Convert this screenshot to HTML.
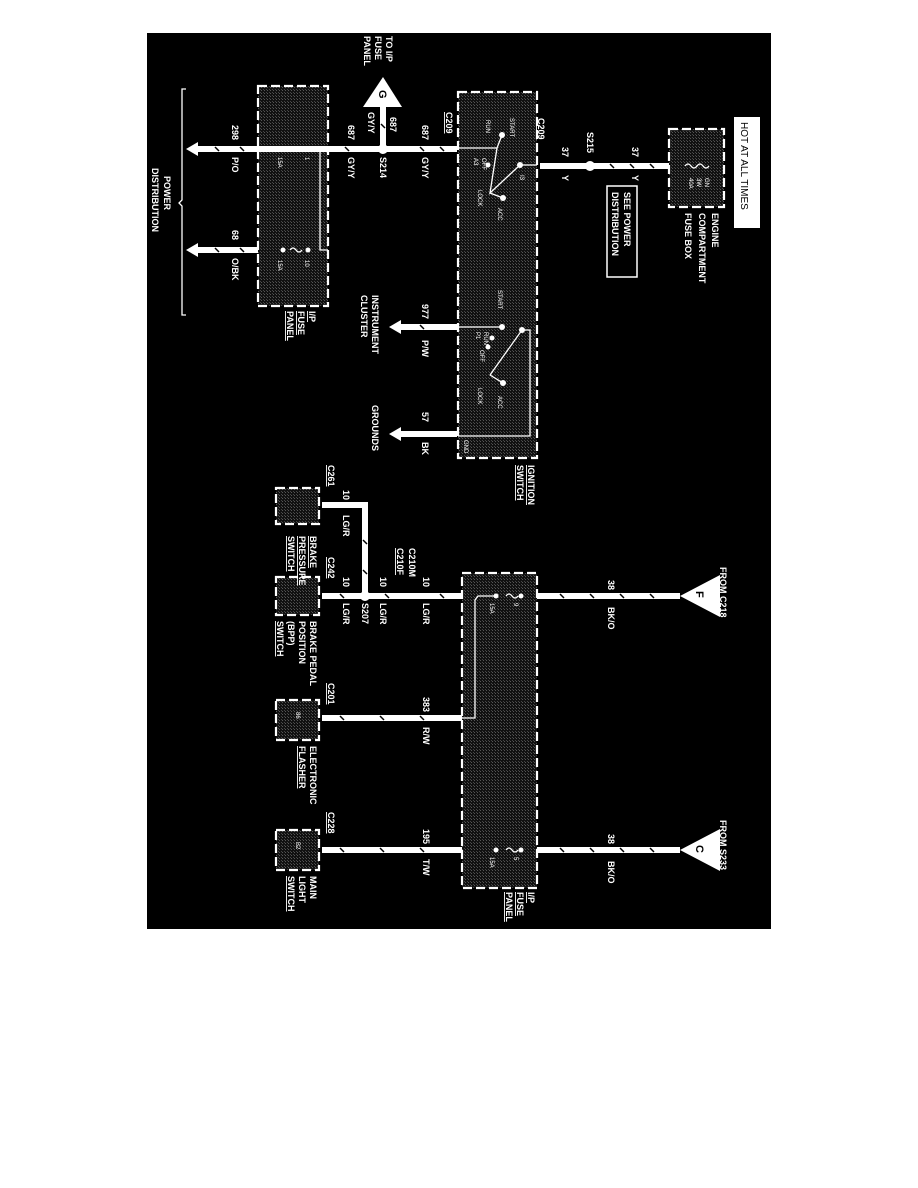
<!DOCTYPE html>
<html><head><meta charset="utf-8"><style>
html,body{margin:0;padding:0;background:#fff;}
svg{display:block;}
text{font-family:"Liberation Sans",Arial,sans-serif;font-weight:bold;fill:#fff;font-size:9px;}
.s{font-size:6px;font-weight:normal;}
</style></head><body>
<svg width="918" height="1188" viewBox="0 0 918 1188" xmlns="http://www.w3.org/2000/svg">
<defs>
<pattern id="gr" width="3" height="3" patternUnits="userSpaceOnUse"><rect width="3" height="3" fill="#111"/><rect width="1" height="1" fill="#555"/><rect x="2" y="2" width="1" height="1" fill="#444"/></pattern>
</defs>
<rect x="147" y="33" width="624" height="896" fill="#000"/>
<g fill="url(#gr)" stroke="#fff" stroke-width="2.2" stroke-dasharray="9,4">
<rect x="669" y="129" width="55" height="78"/>
<rect x="458" y="92" width="79" height="366"/>
<rect x="258" y="86" width="70" height="220"/>
<rect x="462" y="573" width="75" height="315"/>
<rect x="276" y="488" width="43" height="36"/>
<rect x="276" y="577" width="43" height="38"/>
<rect x="276" y="700" width="43" height="40"/>
<rect x="276" y="830" width="43" height="40"/>
</g>
<rect x="734" y="117" width="26" height="111" fill="#fff"/>
<text transform="translate(741,122) rotate(90)" style="fill:#000;font-weight:normal;font-size:10px">HOT AT ALL TIMES</text>
<rect x="607" y="186" width="30" height="91" fill="none" stroke="#fff" stroke-width="1.5"/>
<text transform="translate(624,192) rotate(90)">SEE POWER</text>
<text transform="translate(612,192) rotate(90)">DISTRIBUTION</text>
<g stroke="#fff" stroke-width="6" fill="none">
<line x1="540" y1="166" x2="669" y2="166"/>
<line x1="192" y1="149" x2="457" y2="149"/>
<line x1="383" y1="106" x2="383" y2="149"/>
<line x1="192" y1="250" x2="258" y2="250"/>
<line x1="397" y1="327" x2="457" y2="327"/>
<line x1="397" y1="434" x2="457" y2="434"/>
<line x1="537" y1="596" x2="680" y2="596"/>
<line x1="537" y1="850" x2="680" y2="850"/>
<line x1="322" y1="596" x2="462" y2="596"/>
<polyline points="365,596 365,505 322,505"/>
<line x1="322" y1="718" x2="462" y2="718"/>
<line x1="322" y1="850" x2="462" y2="850"/>
</g>
<g stroke="#000" stroke-width="1.5">
<path d="M610 164l4 4M630 164l4 4M650 164l4 4M215 147l4 4M240 147l4 4M345 147l4 4M420 147l4 4M440 147l4 4M215 248l4 4M240 248l4 4M420 325l4 4M560 594l4 4M590 594l4 4M620 594l4 4M650 594l4 4M560 848l4 4M590 848l4 4M620 848l4 4M650 848l4 4M340 594l4 4M385 594l4 4M440 594l4 4M340 716l4 4M380 716l4 4M420 716l4 4M340 848l4 4M380 848l4 4M420 848l4 4M363 540l4 4M363 570l4 4M381 124l4 4"/>
</g>
<g fill="#fff">
<polygon points="186,149 198,142 198,156"/>
<polygon points="186,250 198,243 198,257"/>
<polygon points="389,327 401,320 401,334"/>
<polygon points="389,434 401,427 401,441"/>
<polygon points="363,107 402,107 383,77"/>
<polygon points="680,596 720,575 720,617"/>
<polygon points="680,850 720,829 720,871"/>
<circle cx="590" cy="166" r="5"/>
<circle cx="383" cy="149" r="5"/>
<circle cx="365" cy="596" r="5"/>
</g>
<text transform="translate(379,90) rotate(90)" style="fill:#000;font-size:11px">G</text>
<text transform="translate(696,591) rotate(90)" style="fill:#000;font-size:11px">F</text>
<text transform="translate(696,845) rotate(90)" style="fill:#000;font-size:11px">C</text>
<g stroke="#fff" stroke-width="1.3" fill="none">
<polyline points="328,149 320,149 320,250 328,250"/>
<path d="M283 149 h2 M308 149 h2"/>
<path d="M290 149 q3 -4 6 0 q3 4 6 0"/>
<path d="M290 250 q3 -4 6 0 q3 4 6 0"/>
<path d="M685 166 q3 -4 6 0 q3 4 6 0 q3 -4 6 0 q3 4 6 0"/>
<path d="M506 596 q3 -4 6 0 q3 4 6 0"/>
<path d="M506 850 q3 -4 6 0 q3 4 6 0"/>
<polyline points="496,596 478,596 475,600 475,718 462,718"/>
<polyline points="458,148 497,148 502,135"/>
<polyline points="497,148 490,193 520,165 537,165"/>
<line x1="490" y1="193" x2="503" y2="198"/>
<polyline points="458,327 502,327"/>
<polyline points="490,375 522,330 530,330 530,436 458,436"/>
<line x1="490" y1="375" x2="503" y2="383"/>
</g>
<g fill="#fff">
<circle cx="502" cy="135" r="3"/><circle cx="488" cy="165" r="2.5"/><circle cx="503" cy="198" r="3"/><circle cx="520" cy="165" r="3"/>
<circle cx="502" cy="327" r="3"/><circle cx="492" cy="338" r="2.5"/><circle cx="488" cy="347" r="2.5"/><circle cx="503" cy="383" r="3"/><circle cx="522" cy="330" r="3"/>
<circle cx="283" cy="149" r="2.5"/><circle cx="308" cy="149" r="2.5"/><circle cx="283" cy="250" r="2.5"/><circle cx="308" cy="250" r="2.5"/>
<circle cx="496" cy="596" r="2.5"/><circle cx="521" cy="596" r="2.5"/><circle cx="496" cy="850" r="2.5"/><circle cx="521" cy="850" r="2.5"/>
</g>
<text transform="translate(712,213) rotate(90)">ENGINE</text>
<text transform="translate(699,213) rotate(90)">COMPARTMENT</text>
<text transform="translate(685,213) rotate(90)">FUSE BOX</text>
<text class="s" transform="translate(705,178) rotate(90)">GN</text>
<text class="s" transform="translate(697,178) rotate(90)">3W</text>
<text class="s" transform="translate(689,178) rotate(90)">40A</text>
<text transform="translate(632,147) rotate(90)">37</text>
<text transform="translate(632,175) rotate(90)">Y</text>
<text transform="translate(587,132) rotate(90)">S215</text>
<text transform="translate(562,147) rotate(90)">37</text>
<text transform="translate(562,175) rotate(90)">Y</text>
<text transform="translate(538,118) rotate(90)" text-decoration="underline">C209</text>
<text transform="translate(446,112) rotate(90)" text-decoration="underline">C209</text>
<text transform="translate(422,125) rotate(90)">687</text>
<text transform="translate(422,157) rotate(90)">GY/Y</text>
<text transform="translate(390,117) rotate(90)">687</text>
<text transform="translate(368,112) rotate(90)">GY/Y</text>
<text transform="translate(380,157) rotate(90)">S214</text>
<text transform="translate(348,125) rotate(90)">687</text>
<text transform="translate(348,157) rotate(90)">GY/Y</text>
<text transform="translate(232,125) rotate(90)">298</text>
<text transform="translate(232,157) rotate(90)">P/O</text>
<text transform="translate(232,230) rotate(90)">68</text>
<text transform="translate(232,258) rotate(90)">O/BK</text>
<text class="s" transform="translate(305,157) rotate(90)">1</text>
<text class="s" transform="translate(278,157) rotate(90)">15A</text>
<text class="s" transform="translate(305,260) rotate(90)">10</text>
<text class="s" transform="translate(278,260) rotate(90)">15A</text>
<text transform="translate(309,311) rotate(90)" text-decoration="underline">I/P</text>
<text transform="translate(298,311) rotate(90)" text-decoration="underline">FUSE</text>
<text transform="translate(287,311) rotate(90)" text-decoration="underline">PANEL</text>
<text transform="translate(164,176) rotate(90)">POWER</text>
<text transform="translate(152,168) rotate(90)">DISTRIBUTION</text>
<path d="M186 89 h-4 v111 l-3 3 l3 3 v109 h4" stroke="#fff" stroke-width="1.3" fill="none"/>
<text transform="translate(386,36) rotate(90)">TO I/P</text>
<text transform="translate(375,36) rotate(90)">FUSE</text>
<text transform="translate(364,36) rotate(90)">PANEL</text>
<text transform="translate(422,304) rotate(90)">977</text>
<text transform="translate(422,340) rotate(90)">P/W</text>
<text transform="translate(372,295) rotate(90)">INSTRUMENT</text>
<text transform="translate(361,295) rotate(90)">CLUSTER</text>
<text transform="translate(422,412) rotate(90)">57</text>
<text transform="translate(422,442) rotate(90)">BK</text>
<text transform="translate(372,405) rotate(90)">GROUNDS</text>
<text transform="translate(528,465) rotate(90)" text-decoration="underline">IGNITION</text>
<text transform="translate(517,465) rotate(90)" text-decoration="underline">SWITCH</text>
<text class="s" transform="translate(510,118) rotate(90)">START</text>
<text class="s" transform="translate(486,120) rotate(90)">RUN</text>
<text class="s" transform="translate(482,158) rotate(90)">OFF</text>
<text class="s" transform="translate(474,158) rotate(90)">A3</text>
<text class="s" transform="translate(478,190) rotate(90)">LOCK</text>
<text class="s" transform="translate(498,208) rotate(90)">ACC</text>
<text class="s" transform="translate(520,175) rotate(90)">I3</text>
<text class="s" transform="translate(498,290) rotate(90)">START</text>
<text class="s" transform="translate(484,332) rotate(90)">RUN</text>
<text class="s" transform="translate(476,332) rotate(90)">P1</text>
<text class="s" transform="translate(480,350) rotate(90)">OFF</text>
<text class="s" transform="translate(478,388) rotate(90)">LOCK</text>
<text class="s" transform="translate(498,396) rotate(90)">ACC</text>
<text class="s" transform="translate(464,440) rotate(90)">GND</text>
<text transform="translate(720,567) rotate(90)">FROM C218</text>
<text transform="translate(720,820) rotate(90)">FROM S233</text>
<text transform="translate(608,580) rotate(90)">38</text>
<text transform="translate(608,607) rotate(90)">BK/O</text>
<text transform="translate(608,834) rotate(90)">38</text>
<text transform="translate(608,861) rotate(90)">BK/O</text>
<text class="s" transform="translate(514,603) rotate(90)">9</text>
<text class="s" transform="translate(490,603) rotate(90)">15A</text>
<text class="s" transform="translate(514,857) rotate(90)">5</text>
<text class="s" transform="translate(490,857) rotate(90)">15A</text>
<text transform="translate(528,892) rotate(90)" text-decoration="underline">I/P</text>
<text transform="translate(517,892) rotate(90)" text-decoration="underline">FUSE</text>
<text transform="translate(506,892) rotate(90)" text-decoration="underline">PANEL</text>
<text transform="translate(423,577) rotate(90)">10</text>
<text transform="translate(423,603) rotate(90)">LG/R</text>
<text transform="translate(409,548) rotate(90)">C210M</text>
<text transform="translate(397,548) rotate(90)" text-decoration="underline">C210F</text>
<text transform="translate(380,577) rotate(90)">10</text>
<text transform="translate(380,603) rotate(90)">LG/R</text>
<text transform="translate(362,603) rotate(90)">S207</text>
<text transform="translate(343,577) rotate(90)">10</text>
<text transform="translate(343,603) rotate(90)">LG/R</text>
<text transform="translate(328,557) rotate(90)" text-decoration="underline">C242</text>
<text transform="translate(343,490) rotate(90)">10</text>
<text transform="translate(343,515) rotate(90)">LG/R</text>
<text transform="translate(328,465) rotate(90)" text-decoration="underline">C261</text>
<text transform="translate(310,536) rotate(90)" text-decoration="underline">BRAKE</text>
<text transform="translate(299,536) rotate(90)" text-decoration="underline">PRESSURE</text>
<text transform="translate(288,536) rotate(90)" text-decoration="underline">SWITCH</text>
<text transform="translate(310,621) rotate(90)">BRAKE PEDAL</text>
<text transform="translate(299,621) rotate(90)">POSITION</text>
<text transform="translate(288,621) rotate(90)">(BPP)</text>
<text transform="translate(277,621) rotate(90)" text-decoration="underline">SWITCH</text>
<text transform="translate(423,697) rotate(90)">383</text>
<text transform="translate(423,727) rotate(90)">R/W</text>
<text transform="translate(328,683) rotate(90)" text-decoration="underline">C201</text>
<text class="s" transform="translate(296,712) rotate(90)">86</text>
<text transform="translate(310,746) rotate(90)">ELECTRONIC</text>
<text transform="translate(299,746) rotate(90)" text-decoration="underline">FLASHER</text>
<text transform="translate(423,829) rotate(90)">195</text>
<text transform="translate(423,859) rotate(90)">T/W</text>
<text transform="translate(328,812) rotate(90)" text-decoration="underline">C228</text>
<text class="s" transform="translate(296,842) rotate(90)">B2</text>
<text transform="translate(310,876) rotate(90)">MAIN</text>
<text transform="translate(299,876) rotate(90)">LIGHT</text>
<text transform="translate(288,876) rotate(90)" text-decoration="underline">SWITCH</text>
</svg>
</body></html>
